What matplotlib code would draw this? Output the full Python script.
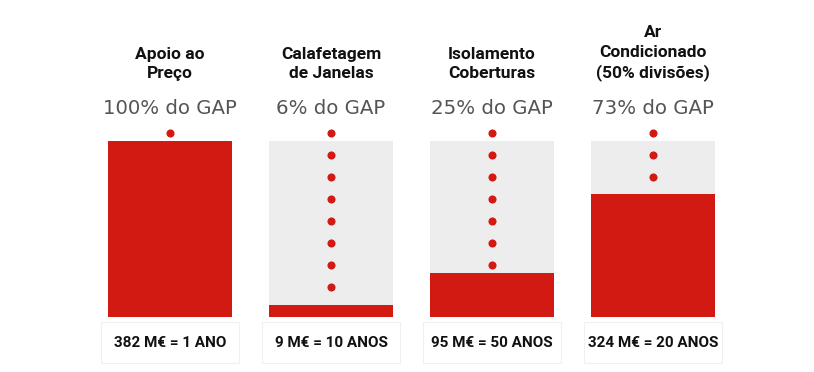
import numpy as np
import matplotlib.pyplot as plt
from matplotlib.patches import Rectangle

# data
titles = ["Apoio ao\nPreço", "Calafetagem\nde Janelas", "Isolamento\nCoberturas",
          "Ar\nCondicionado\n(50% divisões)"]
gap_pct = [100, 6, 25, 73]          # text above each column
fill = [100, 7, 25, 70]             # red fill height (% of column)
dots = [1, 8, 7, 3]                 # red dots per column
costs = ["382 M€ = 1 ANO", "9 M€ = 10 ANOS", "95 M€ = 50 ANOS", "324 M€ = 20 ANOS"]

red = "#d21a12"
grey = "#eeedee"

fig = plt.figure(figsize=(8.14, 3.72), dpi=100)
ax = fig.add_axes([0, 0, 1, 1])
ax.set_xlim(-1.056, 4.0)
ax.set_ylim(-31.25, 180.1)
ax.axis("off")

x = np.arange(len(titles))
w = 0.776

ax.bar(x, 100, width=w, color=grey, zorder=1)
ax.bar(x, fill, width=w, color=red, zorder=2)

for i in range(len(x)):
    ys = 104.5 - 12.5 * np.arange(dots[i])
    ax.scatter(np.full(dots[i], x[i]), ys, s=34, color=red, zorder=3, linewidths=0)

    ax.text(x[i], 134.0, titles[i], ha="center", va="bottom", fontsize=12.5,
            fontweight="bold", family="Roboto", linespacing=1.35, color="#111111")
    ax.text(x[i], 118.5, f"{gap_pct[i]}% do GAP", ha="center", va="center",
            fontsize=14.2, family="DejaVu Sans", color="#555555")

    bw = 0.863
    ax.add_patch(Rectangle((x[i] - bw / 2, -26.1), bw, 23.3, facecolor="white",
                           edgecolor="#f0f0f0", linewidth=0.8, zorder=1))
    ax.text(x[i], -14.8, costs[i], ha="center", va="center", fontsize=11,
            fontweight="bold", family="Roboto", color="#111111")

fig.savefig("out.png", dpi=100, facecolor="white")
